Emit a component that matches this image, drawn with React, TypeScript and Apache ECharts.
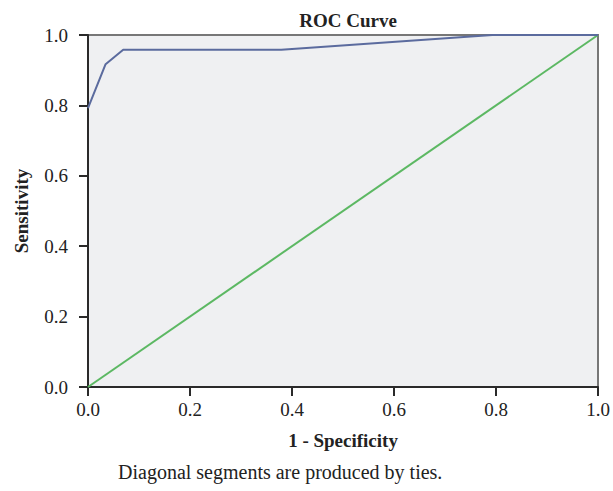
import React, { useEffect, useRef } from "react";
import * as echarts from "echarts";

const rocX = [0, 0.0345, 0.069, 0.379, 0.793, 1.0];
const rocY = [0.792, 0.917, 0.958, 0.958, 1.0, 1.0];
const refX = [0, 1];
const refY = [0, 1];

const FONT = "Liberation Serif";
const AXIS_COLOR = "#2a2a2a";

export default function App() {
  const ref = useRef<HTMLDivElement>(null);
  useEffect(() => {
    if (!ref.current) return;
    const chart = echarts.init(ref.current, undefined, { renderer: "svg" });
    const axisBase = {
      type: "value",
      min: 0,
      max: 1,
      interval: 0.2,
      splitLine: { show: false },
      axisLine: { show: true, onZero: false, lineStyle: { color: AXIS_COLOR, width: 2 } },
      axisTick: { show: true, length: 9, lineStyle: { color: AXIS_COLOR, width: 2 } },
      nameLocation: "middle",
      nameTextStyle: { fontFamily: FONT, fontSize: 19, fontWeight: "bold", color: "#222" },
    };
    chart.setOption({
      animation: false,
      backgroundColor: "#ffffff",
      title: {
        text: "ROC Curve",
        left: 343,
        textAlign: "center",
        top: 6,
        textStyle: { fontFamily: FONT, fontSize: 19, fontWeight: "bold", color: "#222" },
      },
      grid: {
        left: 88,
        top: 35,
        width: 510,
        height: 352,
        show: true,
        backgroundColor: "#eff0f2",
        borderColor: "#777",
        borderWidth: 2,
      },
      xAxis: {
        ...axisBase,
        name: "1 - Specificity",
        nameGap: 44,
        axisLabel: {
          fontFamily: FONT,
          fontSize: 19,
          color: "#222",
          margin: 13,
          formatter: (v: number) => v.toFixed(1),
        },
      },
      yAxis: {
        ...axisBase,
        name: "Sensitivity",
        nameGap: 57,
        axisLabel: {
          fontFamily: FONT,
          fontSize: 19,
          color: "#222",
          margin: 20,
          formatter: (v: number) => v.toFixed(1),
        },
      },
      graphic: [
        {
          type: "text",
          left: 118,
          top: 462,
          style: {
            text: "Diagonal segments are produced by ties.",
            fontFamily: FONT,
            fontSize: 20,
            fill: "#222",
          },
        },
      ],
      series: [
        {
          type: "line",
          data: rocX.map((x, i) => [x, rocY[i]]),
          showSymbol: false,
          lineStyle: { color: "#5b6b9e", width: 2 },
          z: 3,
        },
        {
          type: "line",
          data: refX.map((x, i) => [x, refY[i]]),
          showSymbol: false,
          lineStyle: { color: "#5cb863", width: 2 },
          z: 2,
        },
      ],
    });
    return () => chart.dispose();
  }, []);
  return (
    <div
      ref={ref}
      style={{ position: "fixed", left: 0, top: 0, width: 613, height: 491 }}
    />
  );
}
